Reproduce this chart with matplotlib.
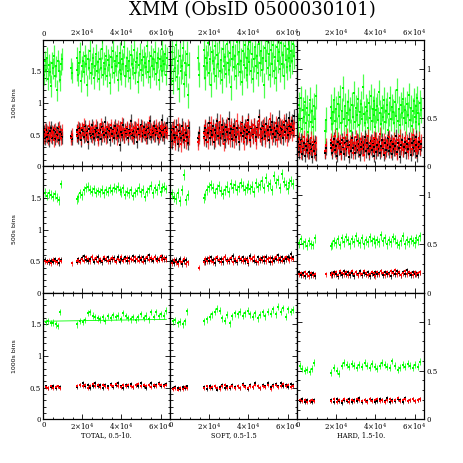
import numpy as np
import matplotlib
matplotlib.use('Agg')
import matplotlib.pyplot as plt
from matplotlib.ticker import FuncFormatter, MultipleLocator, FixedLocator
from matplotlib.colors import to_rgba

plt.rcParams['font.family'] = 'DejaVu Serif'
plt.rcParams['mathtext.fontset'] = 'dejavuserif'

nan = np.nan

# time bins (s) as seen on the plot: first chunk, a stray bin, main chunk
t100 = np.concatenate([np.arange(0, 9600, 500), [14100, 14600], np.arange(17000, 63600, 500)])
t500 = np.concatenate([np.arange(0, 9100, 1000), [14500], np.arange(17000, 63100, 1000)])
t1000 = np.concatenate([np.arange(0, 8800, 1250), np.arange(17500, 63100, 1300)])

band_names = ['TOTAL, 0.5-10.', 'SOFT, 0.5-1.5', 'HARD, 1.5-10.']
bin_names = ['100s bins', '500s bins', '1000s bins']

# ---- 100s bins ----
tot_g100 = [1.58, 1.45, 1.66, 1.52, 1.71, 1.38, 1.60, 1.49, 1.27, 1.63, 1.55, 1.74, 1.42, 1.58, 1.20, 1.67, 1.51, 1.36, 1.62, 1.70,
            1.55, 1.48,
            1.52, 1.71, 1.44, 1.63, 1.80, 1.35, 1.58, 1.66, 1.49, 1.74,
            1.61, 1.28, 1.69, 1.55, 1.83, 1.47, 1.62, 1.72, 1.40, 1.59,
            1.77, 1.51, 1.65, 1.38, 1.70, 1.56, 1.86, 1.45, 1.63, 1.54,
            1.75, 1.42, 1.68, 1.60, 1.31, 1.73, 1.57, 1.82, 1.48, 1.66,
            1.59, 1.74, 1.36, 1.64, 1.53, 1.79, 1.46, 1.69, 1.62, 1.88,
            1.43, 1.58, 1.71, 1.50, 1.67, 1.39, 1.76, 1.61, 1.55, 1.84,
            1.47, 1.65, 1.72, 1.33, 1.60, 1.78, 1.52, 1.68, 1.44, 1.73,
            1.63, 1.57, 1.90, 1.49, 1.66, 1.41, 1.75, 1.58, 1.70, 1.54,
            1.81, 1.46, 1.64, 1.72, 1.37, 1.69, 1.59, 1.85, 1.50, 1.67,
            1.62, 1.77, 1.45, 1.71]
tot_r100 = [0.52, 0.46, 0.58, 0.49, 0.55, 0.43, 0.61, 0.50, 0.47, 0.56, 0.53, 0.41, 0.59, 0.48, 0.54, 0.45, 0.62, 0.51, 0.44, 0.57,
            0.44, 0.50,
            0.55, 0.48, 0.62, 0.51, 0.58, 0.44, 0.60, 0.53, 0.66, 0.49,
            0.57, 0.52, 0.45, 0.63, 0.54, 0.59, 0.47, 0.61, 0.56, 0.50,
            0.64, 0.53, 0.42, 0.58, 0.55, 0.67, 0.49, 0.60, 0.52, 0.57,
            0.46, 0.62, 0.54, 0.59, 0.51, 0.65, 0.48, 0.56, 0.61, 0.53,
            0.58, 0.44, 0.63, 0.55, 0.50, 0.60, 0.57, 0.68, 0.52, 0.47,
            0.59, 0.54, 0.62, 0.49, 0.56, 0.64, 0.51, 0.58, 0.45, 0.61,
            0.55, 0.60, 0.50, 0.66, 0.53, 0.57, 0.48, 0.63, 0.56, 0.52,
            0.59, 0.46, 0.62, 0.54, 0.69, 0.51, 0.58, 0.55, 0.61, 0.49,
            0.57, 0.64, 0.52, 0.60, 0.47, 0.56, 0.63, 0.54, 0.59, 0.50,
            0.62, 0.55, 0.58, 0.53]
tot_k100 = [0.50, 0.55, 0.44, 0.58, 0.47, 0.53, 0.40, 0.56, 0.61, 0.45, 0.52, 0.57, 0.43, 0.54, 0.49, 0.60, 0.42, 0.55, 0.51, 0.46,
            0.48, 0.43,
            0.49, 0.57, 0.45, 0.60, 0.52, 0.41, 0.58, 0.55, 0.47, 0.63,
            0.50, 0.56, 0.38, 0.59, 0.53, 0.48, 0.65, 0.51, 0.44, 0.57,
            0.54, 0.61, 0.46, 0.52, 0.58, 0.43, 0.62, 0.55, 0.49, 0.70,
            0.53, 0.47, 0.59, 0.56, 0.42, 0.60, 0.51, 0.57, 0.45, 0.64,
            0.52, 0.58, 0.48, 0.55, 0.34, 0.61, 0.54, 0.50, 0.66, 0.47,
            0.57, 0.52, 0.60, 0.44, 0.58, 0.53, 0.72, 0.49, 0.56, 0.46,
            0.61, 0.54, 0.39, 0.59, 0.51, 0.57, 0.65, 0.48, 0.55, 0.62,
            0.50, 0.58, 0.45, 0.60, 0.53, 0.71, 0.47, 0.56, 0.52, 0.63,
            0.49, 0.59, 0.55, 0.44, 0.61, 0.52, 0.57, 0.73, 0.50, 0.58,
            0.46, 0.60, 0.54, 0.68]
sof_g100 = [1.62, 1.48, 1.80, 1.35, 1.70, 1.55, 1.92, 1.41, 1.66, 1.22, 1.75, 1.50, 1.58, 1.87, 1.30, 1.64, 1.45, 1.78, 1.12, 1.60,
            1.72, 1.45,
            1.58, 1.84, 1.40, 1.72, 1.63, 1.95, 1.48, 1.70, 1.29, 1.81,
            1.66, 1.54, 1.90, 1.43, 1.76, 1.61, 1.99, 1.50, 1.68, 1.36,
            1.85, 1.59, 1.73, 1.46, 1.93, 1.64, 1.52, 1.79, 1.25, 1.70,
            1.88, 1.57, 1.74, 1.42, 1.96, 1.62, 1.80, 1.49, 1.67, 1.33,
            1.83, 1.60, 1.91, 1.55, 1.71, 1.44, 1.86, 1.65, 1.97, 1.51,
            1.77, 1.38, 1.69, 1.89, 1.58, 1.75, 1.47, 1.94, 1.63, 1.82,
            1.53, 1.72, 1.28, 1.87, 1.66, 1.98, 1.56, 1.78, 1.45, 1.84,
            1.61, 1.92, 1.50, 1.73, 1.39, 1.88, 1.67, 1.80, 1.54, 1.95,
            1.62, 1.76, 1.43, 1.90, 1.68, 1.57, 1.85, 1.71, 1.99, 1.59,
            1.83, 1.66, 1.93, 1.74]
sof_r100 = [0.50, 0.41, 0.58, 0.45, 0.62, 0.38, 0.53, 0.47, 0.66, 0.43, 0.55, 0.35, 0.51, 0.60, 0.44, 0.57, 0.40, 0.49, 0.63, 0.46,
            0.38, 0.47,
            0.52, 0.44, 0.63, 0.49, 0.57, 0.39, 0.61, 0.54, 0.68, 0.46,
            0.58, 0.50, 0.42, 0.65, 0.53, 0.60, 0.45, 0.70, 0.55, 0.48,
            0.62, 0.36, 0.57, 0.51, 0.66, 0.47, 0.59, 0.43, 0.64, 0.52,
            0.56, 0.41, 0.61, 0.49, 0.72, 0.54, 0.45, 0.60, 0.50, 0.67,
            0.53, 0.38, 0.58, 0.63, 0.47, 0.55, 0.69, 0.51, 0.44, 0.62,
            0.57, 0.48, 0.65, 0.53, 0.40, 0.59, 0.56, 0.71, 0.50, 0.46,
            0.61, 0.54, 0.66, 0.43, 0.58, 0.52, 0.63, 0.49, 0.74, 0.55,
            0.45, 0.60, 0.57, 0.51, 0.68, 0.42, 0.59, 0.54, 0.64, 0.48,
            0.62, 0.56, 0.70, 0.50, 0.58, 0.44, 0.65, 0.53, 0.61, 0.57,
            0.67, 0.52, 0.63, 0.59]
sof_k100 = [0.47, 0.55, 0.40, 0.59, 0.50, 0.44, 0.62, 0.48, 0.36, 0.56, 0.52, 0.45, 0.64, 0.49, 0.41, 0.58, 0.53, 0.46, 0.37, 0.60,
            0.44, 0.52,
            0.55, 0.47, 0.61, 0.42, 0.58, 0.52, 0.68, 0.45, 0.56, 0.50,
            0.63, 0.39, 0.57, 0.53, 0.72, 0.48, 0.60, 0.44, 0.55, 0.66,
            0.51, 0.58, 0.41, 0.62, 0.54, 0.47, 0.75, 0.52, 0.59, 0.43,
            0.57, 0.64, 0.50, 0.46, 0.61, 0.55, 0.38, 0.60, 0.53, 0.69,
            0.48, 0.56, 0.62, 0.45, 0.58, 0.51, 0.73, 0.54, 0.42, 0.60,
            0.57, 0.49, 0.65, 0.53, 0.46, 0.61, 0.56, 0.78, 0.50, 0.59,
            0.44, 0.63, 0.55, 0.48, 0.67, 0.52, 0.58, 0.41, 0.62, 0.57,
            0.70, 0.51, 0.60, 0.46, 0.56, 0.64, 0.53, 0.77, 0.49, 0.61,
            0.58, 0.45, 0.66, 0.54, 0.72, 0.59, 0.50, 0.63, 0.76, 0.56,
            0.62, 0.71, 0.58, 0.79]
har_g100 = [0.55, 0.42, 0.63, 0.48, 0.70, 0.38, 0.58, 0.51, 0.66, 0.44, 0.60, 0.35, 0.53, 0.68, 0.46, 0.57, 0.40, 0.62, 0.49, 0.72,
            0.36, 0.48,
            0.50, 0.61, 0.43, 0.56, 0.68, 0.47, 0.59, 0.38, 0.64, 0.52,
            0.71, 0.45, 0.57, 0.80, 0.49, 0.62, 0.41, 0.55, 0.66, 0.48,
            0.58, 0.36, 0.63, 0.51, 0.75, 0.46, 0.60, 0.53, 0.69, 0.42,
            0.56, 0.64, 0.49, 0.82, 0.54, 0.44, 0.61, 0.57, 0.39, 0.65,
            0.50, 0.72, 0.47, 0.59, 0.53, 0.67, 0.40, 0.58, 0.62, 0.48,
            0.76, 0.55, 0.43, 0.60, 0.51, 0.68, 0.46, 0.57, 0.63, 0.37,
            0.54, 0.70, 0.49, 0.61, 0.56, 0.44, 0.66, 0.52, 0.78, 0.47,
            0.59, 0.42, 0.63, 0.55, 0.69, 0.50, 0.58, 0.45, 0.64, 0.53,
            0.73, 0.48, 0.60, 0.41, 0.57, 0.67, 0.51, 0.62, 0.46, 0.70,
            0.55, 0.43, 0.65, 0.58]
har_r100 = [0.24, 0.18, 0.28, 0.21, 0.15, 0.26, 0.20, 0.30, 0.17, 0.23, 0.27, 0.14, 0.22, 0.19, 0.29, 0.16, 0.25, 0.21, 0.13, 0.24,
            0.16, 0.22,
            0.22, 0.27, 0.17, 0.25, 0.20, 0.31, 0.15, 0.23, 0.28, 0.19,
            0.26, 0.13, 0.24, 0.21, 0.29, 0.18, 0.23, 0.32, 0.20, 0.16,
            0.25, 0.22, 0.27, 0.14, 0.24, 0.19, 0.30, 0.21, 0.26, 0.17,
            0.23, 0.28, 0.18, 0.25, 0.12, 0.22, 0.27, 0.20, 0.31, 0.16,
            0.24, 0.19, 0.26, 0.22, 0.29, 0.15, 0.23, 0.28, 0.18, 0.25,
            0.21, 0.33, 0.17, 0.24, 0.20, 0.27, 0.14, 0.22, 0.26, 0.19,
            0.30, 0.23, 0.16, 0.25, 0.21, 0.28, 0.18, 0.24, 0.13, 0.27,
            0.22, 0.31, 0.19, 0.25, 0.17, 0.23, 0.29, 0.20, 0.26, 0.15,
            0.24, 0.21, 0.28, 0.18, 0.32, 0.22, 0.25, 0.16, 0.27, 0.20,
            0.23, 0.29, 0.19, 0.26]
har_k100 = [0.20, 0.25, 0.15, 0.22, 0.27, 0.13, 0.19, 0.24, 0.11, 0.21, 0.17, 0.26, 0.14, 0.23, 0.18, 0.10, 0.22, 0.16, 0.25, 0.12,
            0.14, 0.19,
            0.19, 0.24, 0.14, 0.22, 0.28, 0.17, 0.21, 0.11, 0.25, 0.19,
            0.23, 0.15, 0.27, 0.20, 0.13, 0.24, 0.18, 0.26, 0.21, 0.10,
            0.22, 0.16, 0.29, 0.19, 0.24, 0.14, 0.21, 0.27, 0.17, 0.23,
            0.12, 0.20, 0.25, 0.18, 0.22, 0.30, 0.16, 0.24, 0.19, 0.13,
            0.21, 0.26, 0.17, 0.23, 0.11, 0.20, 0.28, 0.15, 0.22, 0.18,
            0.25, 0.14, 0.21, 0.27, 0.19, 0.12, 0.24, 0.17, 0.22, 0.29,
            0.16, 0.20, 0.26, 0.13, 0.23, 0.18, 0.21, 0.31, 0.15, 0.24,
            0.19, 0.10, 0.22, 0.27, 0.17, 0.20, 0.25, 0.14, 0.23, 0.18,
            0.28, 0.21, 0.12, 0.24, 0.19, 0.26, 0.16, 0.22, 0.30, 0.11,
            0.20, 0.25, 0.18, 0.23]

# ---- 500s bins ----
tot_g500 = [1.56, 1.58, 1.53, 1.57, 1.55, 1.52, 1.56, 1.50, 1.46, 1.72, nan,
            1.48, 1.51, 1.57, 1.54, 1.62, 1.66, 1.68, 1.63, 1.60, 1.64,
            1.58, 1.61, 1.59, 1.63, 1.57, 1.62, 1.60, 1.65, 1.61, 1.66,
            1.64, 1.68, 1.62, 1.59, 1.65, 1.55, 1.60, 1.57, 1.62, 1.53,
            1.58, 1.61, 1.66, 1.59, 1.63, 1.52, 1.60, 1.64, 1.69, 1.57,
            1.65, 1.62, 1.71, 1.60, 1.66, 1.68, 1.64]
tot_r500 = [0.53, 0.50, 0.49, 0.51, 0.47, 0.52, 0.50, 0.48, 0.53, 0.51, 0.47,
            0.50, 0.52, 0.49, 0.54, 0.51, 0.56, 0.53, 0.50, 0.57, 0.52,
            0.55, 0.49, 0.53, 0.51, 0.56, 0.54, 0.50, 0.52, 0.55, 0.53,
            0.49, 0.54, 0.52, 0.57, 0.51, 0.53, 0.55, 0.50, 0.54, 0.52,
            0.56, 0.53, 0.51, 0.55, 0.49, 0.54, 0.57, 0.52, 0.55, 0.53,
            0.56, 0.51, 0.54, 0.58, 0.52, 0.55, 0.53]
tot_k500 = [0.55, 0.52, 0.50, 0.48, 0.51, 0.49, 0.53, 0.50, 0.47, 0.52, nan,
            0.49, 0.53, 0.51, 0.55, 0.58, 0.52, 0.50, 0.54, 0.56, 0.49,
            0.53, 0.57, 0.51, 0.48, 0.54, 0.52, 0.56, 0.50, 0.53, 0.55,
            0.51, 0.57, 0.49, 0.54, 0.52, 0.56, 0.50, 0.55, 0.53, 0.58,
            0.51, 0.54, 0.57, 0.52, 0.56, 0.50, 0.55, 0.59, 0.53, 0.51,
            0.57, 0.54, 0.52, 0.56, 0.58, 0.53, 0.55]
sof_g500 = [1.60, 1.56, 1.52, 1.49, 1.58, 1.45, 1.62, 1.87, 1.47, 1.54, nan,
            1.50, 1.55, 1.62, 1.67, 1.71, 1.66, 1.58, 1.64, 1.69, 1.61,
            1.56, 1.63, 1.68, 1.60, 1.72, 1.65, 1.70, 1.63, 1.67, 1.74,
            1.69, 1.62, 1.66, 1.71, 1.64, 1.68, 1.60, 1.73, 1.67, 1.70,
            1.76, 1.65, 1.81, 1.69, 1.72, 1.62, 1.85, 1.74, 1.78, 1.66,
            1.88, 1.75, 1.70, 1.64, 1.73, 1.77, 1.72]
sof_r500 = [0.50, 0.47, 0.52, 0.48, 0.45, 0.50, 0.49, 0.53, 0.46, 0.48, 0.40,
            0.49, 0.53, 0.50, 0.55, 0.51, 0.48, 0.54, 0.56, 0.52, 0.49,
            0.53, 0.57, 0.50, 0.52, 0.55, 0.48, 0.54, 0.51, 0.56, 0.53,
            0.50, 0.54, 0.52, 0.49, 0.55, 0.53, 0.57, 0.51, 0.48, 0.54,
            0.52, 0.56, 0.50, 0.53, 0.55, 0.49, 0.54, 0.57, 0.52, 0.55,
            0.51, 0.53, 0.56, 0.54, 0.52, 0.55, 0.54]
sof_k500 = [0.58, 0.51, 0.47, 0.52, 0.49, 0.53, 0.46, 0.50, 0.52, 0.48, nan,
            0.51, 0.48, 0.54, 0.50, 0.56, 0.52, 0.47, 0.55, 0.51, 0.53,
            0.49, 0.57, 0.52, 0.50, 0.54, 0.58, 0.51, 0.48, 0.55, 0.52,
            0.56, 0.50, 0.53, 0.47, 0.58, 0.54, 0.51, 0.49, 0.56, 0.52,
            0.55, 0.50, 0.57, 0.53, 0.48, 0.55, 0.51, 0.54, 0.59, 0.52,
            0.56, 0.50, 0.53, 0.57, 0.55, 0.62, 0.56]
har_g500 = [0.54, 0.51, 0.55, 0.50, 0.52, 0.48, 0.53, 0.50, 0.49, 0.56, nan,
            0.48, 0.50, 0.53, 0.51, 0.55, 0.49, 0.56, 0.52, 0.57, 0.54,
            0.50, 0.55, 0.52, 0.58, 0.53, 0.51, 0.56, 0.50, 0.54, 0.52,
            0.57, 0.53, 0.55, 0.51, 0.54, 0.52, 0.59, 0.53, 0.56, 0.50,
            0.54, 0.52, 0.57, 0.55, 0.51, 0.49, 0.53, 0.58, 0.50, 0.54,
            0.52, 0.55, 0.53, 0.51, 0.56, 0.54, 0.58]
har_r500 = [0.21, 0.19, 0.20, 0.18, 0.21, 0.19, 0.17, 0.20, 0.18, 0.19, 0.19,
            0.18, 0.20, 0.19, 0.21, 0.18, 0.22, 0.20, 0.19, 0.21, 0.18,
            0.20, 0.22, 0.19, 0.21, 0.18, 0.20, 0.19, 0.22, 0.20, 0.18,
            0.19, 0.21, 0.20, 0.17, 0.21, 0.19, 0.22, 0.20, 0.18, 0.21,
            0.19, 0.22, 0.20, 0.23, 0.19, 0.21, 0.18, 0.20, 0.22, 0.19,
            0.21, 0.20, 0.18, 0.21, 0.19, 0.20, 0.21]
har_k500 = [0.19, 0.21, 0.18, 0.20, 0.17, 0.19, 0.21, 0.18, 0.20, 0.17, nan,
            0.20, 0.18, 0.21, 0.19, 0.17, 0.20, 0.18, 0.22, 0.19, 0.21,
            0.18, 0.20, 0.17, 0.21, 0.19, 0.22, 0.18, 0.20, 0.19, 0.21,
            0.17, 0.20, 0.18, 0.21, 0.19, 0.20, 0.22, 0.18, 0.21, 0.19,
            0.20, 0.17, 0.21, 0.19, 0.22, 0.20, 0.18, 0.21, 0.19, 0.23,
            0.20, 0.18, 0.21, 0.19, 0.20, 0.18, 0.21]

# ---- 1000s bins ----
tot_g1000 = [1.56, 1.54, 1.55, 1.52, 1.53, 1.50, 1.48, 1.70,
             1.50, 1.55, 1.54, 1.57, 1.68, 1.70, 1.64, 1.62, 1.60, 1.58,
             1.61, 1.56, 1.63, 1.60, 1.65, 1.62, 1.64, 1.59, 1.68, 1.63,
             1.60, 1.58, 1.62, 1.57, 1.61, 1.66, 1.60, 1.64, 1.58, 1.70,
             1.62, 1.70, 1.63, 1.66, 1.64, 1.72]
tot_r1000 = [0.53, 0.51, 0.50, 0.52, 0.49, 0.51, 0.52, 0.50,
             0.53, 0.55, 0.52, 0.54, 0.50, 0.53, 0.56, 0.52, 0.54, 0.51,
             0.55, 0.53, 0.50, 0.54, 0.52, 0.56, 0.53, 0.51, 0.54, 0.52,
             0.55, 0.53, 0.51, 0.54, 0.56, 0.52, 0.55, 0.53, 0.54, 0.51,
             0.55, 0.53, 0.56, 0.54, 0.52, 0.55]
tot_k1000 = [0.56, 0.52, 0.49, 0.51, 0.53, 0.50, 0.52, 0.51,
             0.51, 0.54, 0.57, 0.52, 0.55, 0.50, 0.53, 0.58, 0.52, 0.55,
             0.49, 0.54, 0.52, 0.56, 0.51, 0.54, 0.57, 0.52, 0.50, 0.55,
             0.53, 0.56, 0.51, 0.54, 0.52, 0.57, 0.53, 0.50, 0.55, 0.58,
             0.52, 0.54, 0.57, 0.53, 0.55, 0.56]
sof_g1000 = [1.58, 1.55, 1.57, 1.52, 1.54, 1.50, 1.55, 1.71,
             1.55, 1.58, 1.62, 1.66, 1.70, 1.75, 1.72, 1.60, 1.56, 1.65,
             1.52, 1.63, 1.68, 1.66, 1.70, 1.64, 1.68, 1.72, 1.66, 1.62,
             1.68, 1.60, 1.65, 1.69, 1.63, 1.70, 1.67, 1.74, 1.66, 1.78,
             1.70, 1.76, 1.62, 1.74, 1.70, 1.73]
sof_r1000 = [0.50, 0.48, 0.49, 0.47, 0.50, 0.48, 0.51, 0.49,
             0.50, 0.52, 0.49, 0.51, 0.53, 0.50, 0.48, 0.52, 0.54, 0.50,
             0.51, 0.53, 0.49, 0.52, 0.50, 0.54, 0.51, 0.49, 0.53, 0.51,
             0.55, 0.52, 0.50, 0.53, 0.51, 0.54, 0.48, 0.52, 0.55, 0.51,
             0.53, 0.56, 0.52, 0.54, 0.51, 0.53]
sof_k1000 = [0.52, 0.49, 0.51, 0.50, 0.48, 0.51, 0.50, 0.52,
             0.51, 0.48, 0.53, 0.50, 0.52, 0.47, 0.51, 0.54, 0.50, 0.52,
             0.49, 0.55, 0.51, 0.53, 0.50, 0.56, 0.52, 0.48, 0.54, 0.51,
             0.57, 0.53, 0.50, 0.55, 0.52, 0.58, 0.51, 0.54, 0.56, 0.52,
             0.57, 0.53, 0.55, 0.51, 0.56, 0.54]
har_g1000 = [0.53, 0.55, 0.52, 0.50, 0.51, 0.49, 0.52, 0.58,
             0.48, 0.53, 0.50, 0.47, 0.55, 0.58, 0.56, 0.54, 0.57, 0.55,
             0.53, 0.56, 0.54, 0.58, 0.55, 0.53, 0.57, 0.54, 0.52, 0.55,
             0.58, 0.56, 0.54, 0.53, 0.60, 0.55, 0.51, 0.53, 0.56, 0.54,
             0.57, 0.55, 0.53, 0.56, 0.54, 0.59]
har_r1000 = [0.21, 0.20, 0.19, 0.20, 0.18, 0.19, 0.20, 0.19,
             0.19, 0.21, 0.18, 0.20, 0.19, 0.21, 0.20, 0.18, 0.20, 0.19,
             0.21, 0.20, 0.19, 0.20, 0.18, 0.21, 0.19, 0.20, 0.21, 0.19,
             0.20, 0.18, 0.20, 0.21, 0.19, 0.20, 0.22, 0.19, 0.20, 0.21,
             0.19, 0.20, 0.21, 0.19, 0.20, 0.21]
har_k1000 = [0.20, 0.19, 0.21, 0.18, 0.20, 0.19, 0.18, 0.20,
             0.20, 0.18, 0.21, 0.19, 0.17, 0.20, 0.19, 0.21, 0.18, 0.20,
             0.19, 0.22, 0.18, 0.20, 0.19, 0.21, 0.20, 0.18, 0.19, 0.21,
             0.20, 0.19, 0.22, 0.18, 0.20, 0.19, 0.21, 0.20, 0.18, 0.22,
             0.19, 0.20, 0.21, 0.19, 0.20, 0.21]

# typical 1-sigma errors, [row][band] -> (green, red, black)
errs = [[(0.17, 0.10, 0.10), (0.20, 0.12, 0.12), (0.13, 0.07, 0.07)],
        [(0.07, 0.04, 0.04), (0.08, 0.045, 0.045), (0.045, 0.025, 0.025)],
        [(0.05, 0.03, 0.03), (0.055, 0.03, 0.03), (0.035, 0.02, 0.02)]]

# constant fit drawn over the 1000s total curve
fit_t = [0, 63000]
fit_y = [1.55, 1.58]

times = [t100, t500, t1000]
curves = [[(tot_g100, tot_r100, tot_k100), (sof_g100, sof_r100, sof_k100), (har_g100, har_r100, har_k100)],
          [(tot_g500, tot_r500, tot_k500), (sof_g500, sof_r500, sof_k500), (har_g500, har_r500, har_k500)],
          [(tot_g1000, tot_r1000, tot_k1000), (sof_g1000, sof_r1000, sof_k1000), (har_g1000, har_r1000, har_k1000)]]

gcol = '#00ff00'
rcol = '#ff0000'
kcol = '#000000'


def xfmt(v, pos):
    if v == 0:
        return '0'
    return r'$%d{\times}10^{4}$' % round(v / 1e4)


def draw(ax, t, y, e, c, ms, lw, a):
    ax.errorbar(t, y, yerr=e, fmt='s', ms=ms, mew=0, color=c, ecolor=to_rgba(c, a),
                elinewidth=lw, capsize=1.3, capthick=lw)


fig = plt.figure(figsize=(4.63, 4.63), dpi=100)
W = 127 / 463.
H = 126.5 / 463.
L = 43.3 / 463.
B = 43.7 / 463.

for r in range(3):
    for c in range(3):
        ax = fig.add_axes([L + c * W, B + (2 - r) * H, W, H])
        g, rr, k = curves[r][c]
        eg, er, ek = errs[r][c]
        if r == 0:
            ms, lw, a = 2.0, 0.9, 0.7
        else:
            ms, lw, a = 2.0, 0.7, 0.75
        draw(ax, times[r], g, eg, gcol, ms, lw, a)
        draw(ax, times[r], k, ek, kcol, ms, lw, a)
        draw(ax, times[r], rr, er, rcol, ms, lw, a)
        if r == 2 and c == 0:
            ax.plot(fit_t, fit_y, color=gcol, lw=0.6)
        ax.set_xlim(0, 65000)
        if c == 2:
            ax.set_ylim(0, 1.3)
            ax.yaxis.set_major_locator(FixedLocator([0, 0.5, 1]))
        else:
            ax.set_ylim(0, 2.0)
            ax.yaxis.set_major_locator(FixedLocator([0, 0.5, 1, 1.5]))
        ax.yaxis.set_minor_locator(MultipleLocator(0.1))
        ax.xaxis.set_major_locator(FixedLocator([0, 20000, 40000, 60000]))
        ax.xaxis.set_minor_locator(MultipleLocator(5000))
        ax.xaxis.set_major_formatter(FuncFormatter(xfmt))
        ax.yaxis.set_major_formatter(FuncFormatter(lambda v, p: '%g' % v))
        ax.tick_params(which='both', direction='in', top=True, right=True, width=0.6,
                       labelsize=5, pad=1.5,
                       labeltop=(r == 0), labelbottom=(r == 2),
                       labelleft=(c == 0), labelright=(c == 2))
        ax.tick_params(which='major', length=3.5)
        ax.tick_params(which='minor', length=1.8)
        for s in ax.spines.values():
            s.set_linewidth(0.9)
        if c == 0:
            fig.text(15 / 463., 1 - (103 + 126.5 * r) / 463., bin_names[r], rotation=90,
                     fontsize=4.5, family='DejaVu Sans', ha='center', va='center')
        if r == 2:
            fig.text(L + (c + 0.5) * W, 1 - 435 / 463., band_names[c],
                     fontsize=4.8, ha='center', va='center')

fig.text(252 / 463., 1 - 10 / 463., 'XMM (ObsID 0500030101)', ha='center', va='center',
         fontsize=13)

fig.savefig('out.png', dpi=100)
